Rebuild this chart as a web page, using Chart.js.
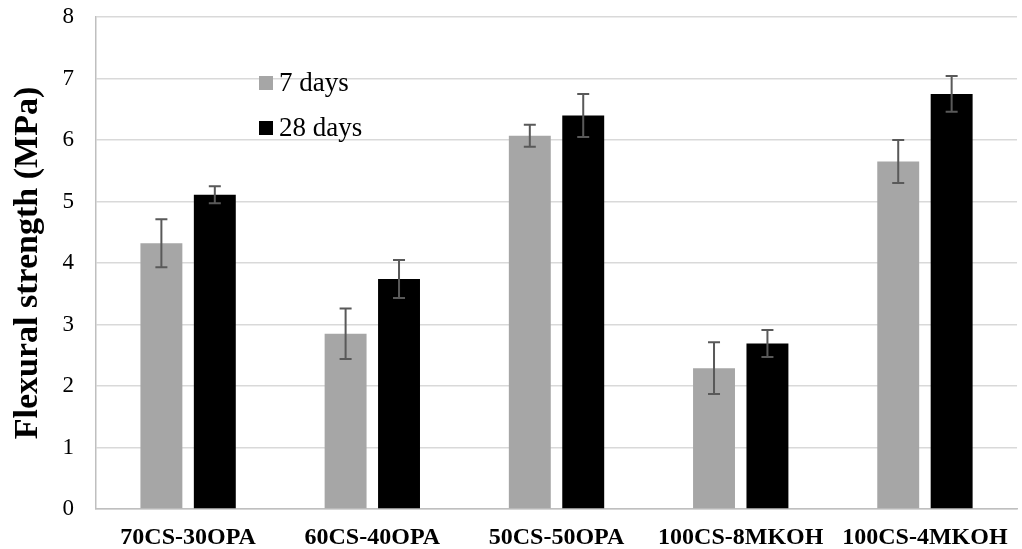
<!DOCTYPE html>
<html>
<head>
<meta charset="utf-8">
<script src="https://cdn.jsdelivr.net/npm/chart.js@4.4.1/dist/chart.umd.min.js"></script>
<style>
  html, body { margin: 0; padding: 0; background: #fff; }
  #wrap { width: 1022px; height: 549px; }
</style>
</head>
<body>
<div id="wrap"><canvas id="flexChart" width="1022" height="549"></canvas></div>
<script>
// ================= DATA =================
const categories = ["70CS-30OPA", "60CS-40OPA", "50CS-50OPA", "100CS-8MKOH", "100CS-4MKOH"];
const seriesNames = ["7 days", "28 days"];
const days7 = [4.32, 2.85, 6.07, 2.29, 5.65];
const days7Err = [0.39, 0.41, 0.18, 0.42, 0.35];
const days28 = [5.11, 3.74, 6.40, 2.69, 6.75];
const days28Err = [0.14, 0.31, 0.35, 0.22, 0.29];
const yTicks = [0, 1, 2, 3, 4, 5, 6, 7, 8];

const serif = "'Liberation Serif', 'Times New Roman', serif";

// ================= ERROR BARS =================
const errorBars = {
  id: "errorBars",
  afterDatasetsDraw(chart) {
    const ctx = chart.ctx;
    const y = chart.scales.y;
    ctx.save();
    ctx.strokeStyle = "#595959";
    ctx.lineWidth = 2;
    chart.data.datasets.forEach((ds, i) => {
      const meta = chart.getDatasetMeta(i);
      meta.data.forEach((bar, j) => {
        const v = ds.data[j];
        const e = ds.errors[j];
        const top = y.getPixelForValue(v + e);
        const bot = y.getPixelForValue(v - e);
        const x = bar.x;
        ctx.beginPath();
        ctx.moveTo(x, top); ctx.lineTo(x, bot);
        ctx.moveTo(x - 6, top); ctx.lineTo(x + 6, top);
        ctx.moveTo(x - 6, bot); ctx.lineTo(x + 6, bot);
        ctx.stroke();
      });
    });
    ctx.restore();
  }
};

// ================= LEGEND (inside plot) =================
const insideLegend = {
  id: "insideLegend",
  afterDraw(chart) {
    const ctx = chart.ctx;
    ctx.save();
    ctx.font = "27px " + serif;
    ctx.textBaseline = "middle";
    chart.data.datasets.forEach((ds, i) => {
      const cy = 83 + i * 45;
      ctx.fillStyle = ds.backgroundColor;
      ctx.fillRect(259, cy - 7, 14, 14);
      ctx.fillStyle = "#000";
      ctx.fillText(ds.label, 279, cy + 1);
    });
    ctx.restore();
  }
};

// ================= CHART =================
new Chart(document.getElementById("flexChart").getContext("2d"), {
  type: "bar",
  data: {
    labels: categories,
    datasets: [
      { label: seriesNames[0], data: days7, errors: days7Err, backgroundColor: "#a6a6a6" },
      { label: seriesNames[1], data: days28, errors: days28Err, backgroundColor: "#000000" }
    ]
  },
  options: {
    responsive: false,
    animation: false,
    devicePixelRatio: 1,
    layout: { padding: { left: 8, right: 4, top: 17, bottom: 0 } },
    datasets: {
      bar: { categoryPercentage: 0.58, barPercentage: 0.785 }
    },
    plugins: {
      legend: { display: false },
      tooltip: { enabled: false }
    },
    scales: {
      x: {
        grid: { display: false, drawTicks: false },
        border: { display: true, color: "#bfbfbf", width: 1.5 },
        ticks: {
          color: "#000",
          font: { family: serif, size: 24, weight: "bold" },
          padding: 14,
          maxRotation: 0,
          autoSkip: false
        },
        afterFit(s) { s.height = 40; }
      },
      y: {
        min: 0,
        max: 8,
        afterBuildTicks(s) { s.ticks = yTicks.map(v => ({ value: v })); },
        grid: { color: "#d9d9d9", lineWidth: 1.5, drawTicks: false },
        border: { display: true, color: "#bfbfbf", width: 1.5 },
        ticks: {
          color: "#000",
          font: { family: serif, size: 23 },
          padding: 22
        },
        title: {
          display: true,
          text: "Flexural strength (MPa)",
          color: "#000",
          font: { family: serif, size: 34, weight: "bold" },
          padding: { top: 0, bottom: 4 }
        },
        afterFit(s) {
          s.width = 88;
          // tick padding inflates the top gap, keep it tight like the original
          s.paddingTop = 0;
        }
      }
    }
  },
  plugins: [errorBars, insideLegend]
});
</script>
</body>
</html>
